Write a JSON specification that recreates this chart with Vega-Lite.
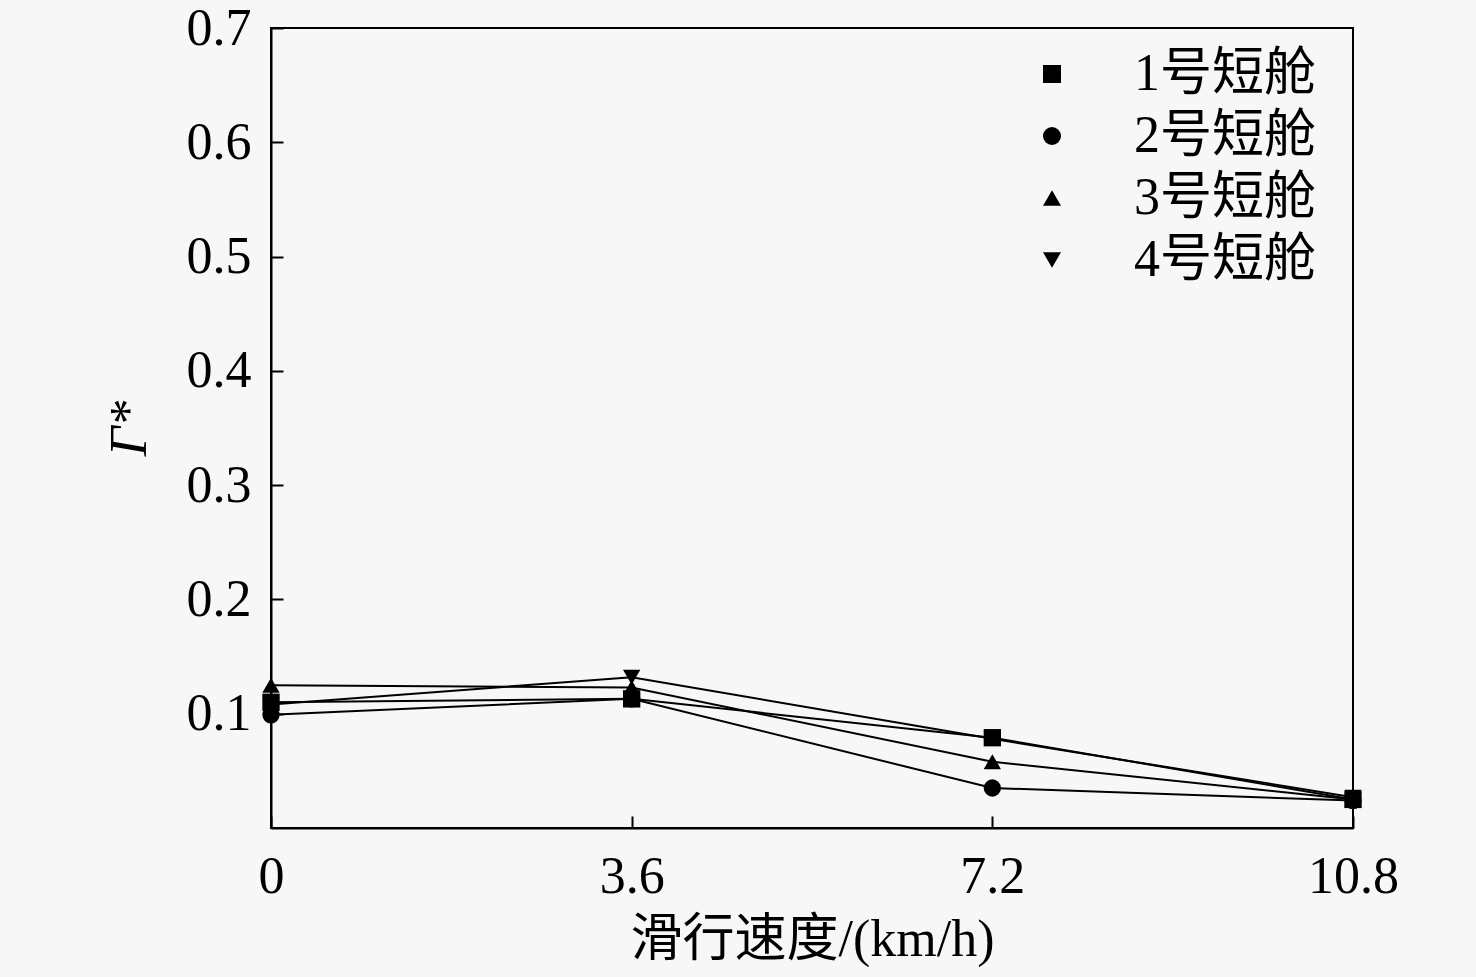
{
  "$schema": "https://vega.github.io/schema/vega-lite/v6.json",
  "width": 1082,
  "height": 800,
  "autosize": {"type": "none"},
  "padding": {"left": 271, "top": 28, "right": 123, "bottom": 149},
  "background": "#f7f7f7",
  "data": {
    "values": [
      {"nacelle": "1号短舱", "speed": 0, "gamma": 0.110},
      {"nacelle": "1号短舱", "speed": 3.6, "gamma": 0.113},
      {"nacelle": "1号短舱", "speed": 7.2, "gamma": 0.079},
      {"nacelle": "1号短舱", "speed": 10.8, "gamma": 0.025},
      {"nacelle": "2号短舱", "speed": 0, "gamma": 0.099},
      {"nacelle": "2号短舱", "speed": 3.6, "gamma": 0.113},
      {"nacelle": "2号短舱", "speed": 7.2, "gamma": 0.035},
      {"nacelle": "2号短舱", "speed": 10.8, "gamma": 0.024},
      {"nacelle": "3号短舱", "speed": 0, "gamma": 0.125},
      {"nacelle": "3号短舱", "speed": 3.6, "gamma": 0.123},
      {"nacelle": "3号短舱", "speed": 7.2, "gamma": 0.058},
      {"nacelle": "3号短舱", "speed": 10.8, "gamma": 0.025},
      {"nacelle": "4号短舱", "speed": 0, "gamma": 0.108},
      {"nacelle": "4号短舱", "speed": 3.6, "gamma": 0.132},
      {"nacelle": "4号短舱", "speed": 7.2, "gamma": 0.078},
      {"nacelle": "4号短舱", "speed": 10.8, "gamma": 0.027}
    ]
  },
  "encoding": {
    "x": {
      "field": "speed",
      "type": "quantitative",
      "title": "滑行速度/(km/h)",
      "scale": {"domain": [0, 10.8], "nice": false},
      "axis": {
        "values": [0, 3.6, 7.2, 10.8],
        "format": ".1~f",
        "grid": false,
        "tickSize": -12,
        "labelFlush": false,
        "labelPadding": 35,
        "titlePadding": 12
      }
    },
    "y": {
      "field": "gamma",
      "type": "quantitative",
      "title": "Γ*",
      "scale": {"domain": [0, 0.7], "nice": false},
      "axis": {
        "values": [0.1, 0.2, 0.3, 0.4, 0.5, 0.6, 0.7],
        "format": ".1f",
        "grid": false,
        "tickSize": -12,
        "labelFlush": false,
        "labelPadding": 32,
        "titlePadding": 30,
        "titleFontStyle": "italic",
        "titleFontWeight": "normal"
      }
    }
  },
  "layer": [
    {
      "mark": {"type": "line", "color": "black", "strokeWidth": 2},
      "encoding": {"detail": {"field": "nacelle"}}
    },
    {
      "mark": {"type": "point", "filled": true, "color": "black", "size": 300, "opacity": 1},
      "encoding": {
        "shape": {
          "field": "nacelle",
          "type": "nominal",
          "scale": {"range": ["square", "circle", "triangle-up", "triangle-down"]},
          "legend": {
            "orient": "none",
            "legendX": 755,
            "legendY": 20,
            "title": null,
            "labelFontSize": 52,
            "labelOffset": 56,
            "labelLimit": 400,
            "rowPadding": 10,
            "symbolSize": 324,
            "symbolFillColor": "black",
            "symbolStrokeColor": "black",
            "symbolStrokeWidth": 2,
            "symbolOpacity": 1,
            "encode": {
              "symbols": {
                "size": {"value": 324},
                "stroke": {"value": "black"},
                "strokeWidth": {"value": 2},
                "shape": {"value": {"signal": "datum.index === 0 ? 'M-6.4,0H6.4M-1,-1H1V1H-1Z' : datum.index === 1 ? 'M-6.4,0H6.4M1.1,0A1.1,1.1 0 1,1 -1.1,0A1.1,1.1 0 1,1 1.1,0Z' : datum.index === 2 ? 'M-6.4,0H6.4M0,-1.1L1.2,0.9H-1.2Z' : 'M-6.4,0H6.4M0,1.1L1.2,-0.9H-1.2Z'"}}
              }
            }
          }
        }
      }
    }
  ],
  "config": {
    "font": "Liberation Serif, Noto Sans CJK SC",
    "view": {"stroke": "black", "strokeWidth": 2},
    "axis": {
      "domainColor": "black",
      "domainWidth": 2,
      "tickColor": "black",
      "tickWidth": 2,
      "labelFont": "Liberation Serif, Noto Sans CJK SC",
      "labelFontSize": 52,
      "labelColor": "black",
      "titleFont": "Liberation Serif, Noto Sans CJK SC",
      "titleFontSize": 52,
      "titleFontWeight": "normal",
      "titleColor": "black"
    },
    "legend": {
      "labelFont": "Liberation Serif, Noto Sans CJK SC",
      "labelColor": "black"
    }
  }
}
